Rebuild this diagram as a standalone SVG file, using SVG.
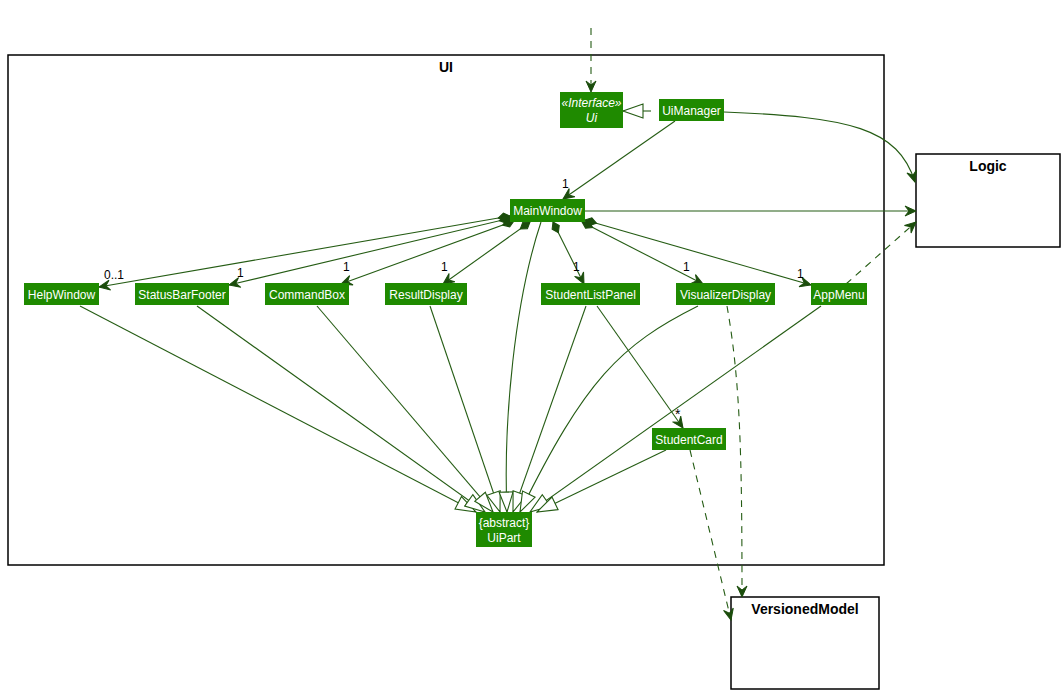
<svg xmlns="http://www.w3.org/2000/svg" width="1064" height="694" viewBox="0 0 1064 694">
<style>
.node rect{fill:#1F8A00;}
.node text{fill:#fff;font-family:"Liberation Sans",Arial,sans-serif;font-size:12px;text-anchor:middle;}
.pkg{fill:none;stroke:#000;stroke-width:1.5;}
.ptitle{font-family:"Liberation Sans",Arial,sans-serif;font-size:14px;font-weight:bold;text-anchor:middle;fill:#000;}
.c{fill:none;stroke:#255C14;stroke-width:1.1;}
.d{stroke-dasharray:7,6;}
.lbl{font-family:"Liberation Sans",Arial,sans-serif;font-size:12px;fill:#000;}
</style>
<defs>
<marker id="arr" markerUnits="userSpaceOnUse" markerWidth="14" markerHeight="12" viewBox="-1 -6 14 12" refX="11" refY="0" orient="auto"><path d="M0,-5 L11,0 L0,5 L4,0 Z" fill="#1B4D0C" stroke="#1B4D0C" stroke-width="1"/></marker>
<marker id="dia" markerUnits="userSpaceOnUse" markerWidth="16" markerHeight="10" viewBox="-1 -5 16 10" refX="0" refY="0" orient="auto"><path d="M0,0 L6,-4 L12,0 L6,4 Z" fill="#1B4D0C" stroke="#1B4D0C" stroke-width="1"/></marker>
<marker id="tri" markerUnits="userSpaceOnUse" markerWidth="22" markerHeight="16" viewBox="-1 -8 22 16" refX="20" refY="0" orient="auto"><path d="M0,-7 L20,0 L0,7 Z" fill="#fff" stroke="#255C14" stroke-width="1.1"/></marker>
</defs>

<g id="pkg-ui">
<rect class="pkg" x="8" y="55" width="876" height="510"/>
<text class="ptitle" x="446" y="72">UI</text>
</g>
<g id="logic">
<rect class="pkg" x="916" y="154" width="144" height="93"/>
<text class="ptitle" x="988" y="171">Logic</text>
</g>
<g id="versionedmodel">
<rect class="pkg" x="731" y="597" width="148" height="92"/>
<text class="ptitle" x="805" y="614">VersionedModel</text>
</g>

<g id="connectors">
<path class="c d" d="M591,28 L591,92" marker-end="url(#arr)"/>
<path class="c" d="M651,111 L643,111" />
<path class="c" d="M643,111 L623,111" marker-end="url(#tri)"/>
<path class="c" d="M724,112 C850,117 898,128 915,182" marker-end="url(#arr)"/>
<path class="c" d="M675,121 L563,199" marker-end="url(#arr)"/>
<path class="c" d="M585,211 L916,211" marker-end="url(#arr)"/>
<path class="c d" d="M846,284 L916,222" marker-end="url(#arr)"/>

<path class="c" d="M510,216 L99,287" marker-start="url(#dia)" marker-end="url(#arr)"/>
<path class="c" d="M511,218 L229,285" marker-start="url(#dia)" marker-end="url(#arr)"/>
<path class="c" d="M514,221 L341,284" marker-start="url(#dia)" marker-end="url(#arr)"/>
<path class="c" d="M530,222 L443,284" marker-start="url(#dia)" marker-end="url(#arr)"/>
<path class="c" d="M553,222 L584,284" marker-start="url(#dia)" marker-end="url(#arr)"/>
<path class="c" d="M582,222 L703,284" marker-start="url(#dia)" marker-end="url(#arr)"/>
<path class="c" d="M585,220 L811,285" marker-start="url(#dia)" marker-end="url(#arr)"/>

<path class="c" d="M597,306 L683,428" marker-end="url(#arr)"/>
<path class="c d" d="M727,306 C740,380 742,450 742,597" marker-end="url(#arr)"/>
<path class="c d" d="M690,450 L731,620" marker-end="url(#arr)"/>

<path class="c" d="M80,306 L476,512" marker-end="url(#tri)"/>
<path class="c" d="M197,306 L485,512" marker-end="url(#tri)"/>
<path class="c" d="M317,306 L493,512" marker-end="url(#tri)"/>
<path class="c" d="M430,306 L500,512" marker-end="url(#tri)"/>
<path class="c" d="M541,222 C515,300 503,420 507,512" marker-end="url(#tri)"/>
<path class="c" d="M586,306 L513,512" marker-end="url(#tri)"/>
<path class="c" d="M698,306 C620,345 585,380 520,512" marker-end="url(#tri)"/>
<path class="c" d="M821,306 L530,512" marker-end="url(#tri)"/>
<path class="c" d="M666,450 L537,512" marker-end="url(#tri)"/>

<text class="lbl" x="562" y="188">1</text>
<text class="lbl" x="104" y="279">0..1</text>
<text class="lbl" x="237" y="277">1</text>
<text class="lbl" x="343" y="271">1</text>
<text class="lbl" x="441" y="271">1</text>
<text class="lbl" x="573" y="271">1</text>
<text class="lbl" x="683" y="271">1</text>
<text class="lbl" x="797" y="278">1</text>
<text class="lbl" x="675" y="419" style="font-size:14px">*</text>
</g>

<g id="ui" class="node"><rect x="560" y="92" width="63" height="36"/>
<text x="591.5" y="107" style="font-style:italic">«Interface»</text>
<text x="591.5" y="122" style="font-style:italic">Ui</text></g>
<g id="uimanager" class="node"><rect x="659" y="99" width="65" height="22"/><text x="691.5" y="115">UiManager</text></g>
<g id="mainwindow" class="node"><rect x="510" y="199" width="75" height="23"/><text x="547.5" y="215">MainWindow</text></g>
<g id="helpwindow" class="node"><rect x="24" y="283" width="75" height="22"/><text x="61.5" y="299">HelpWindow</text></g>
<g id="statusbarfooter" class="node"><rect x="135" y="283" width="94" height="22"/><text x="182" y="299">StatusBarFooter</text></g>
<g id="commandbox" class="node"><rect x="265" y="283" width="84" height="22"/><text x="307" y="299">CommandBox</text></g>
<g id="resultdisplay" class="node"><rect x="385" y="283" width="82" height="22"/><text x="426" y="299">ResultDisplay</text></g>
<g id="studentlistpanel" class="node"><rect x="541" y="283" width="99" height="22"/><text x="590.5" y="299">StudentListPanel</text></g>
<g id="visualizerdisplay" class="node"><rect x="676" y="283" width="99" height="22"/><text x="725.5" y="299">VisualizerDisplay</text></g>
<g id="appmenu" class="node"><rect x="811" y="283" width="56" height="22"/><text x="839" y="299">AppMenu</text></g>
<g id="studentcard" class="node"><rect x="652" y="428" width="74" height="22"/><text x="689" y="444">StudentCard</text></g>
<g id="uipart" class="node"><rect x="476" y="512" width="56" height="35"/>
<text x="504" y="527">{abstract}</text><text x="504" y="542">UiPart</text></g>
</svg>
